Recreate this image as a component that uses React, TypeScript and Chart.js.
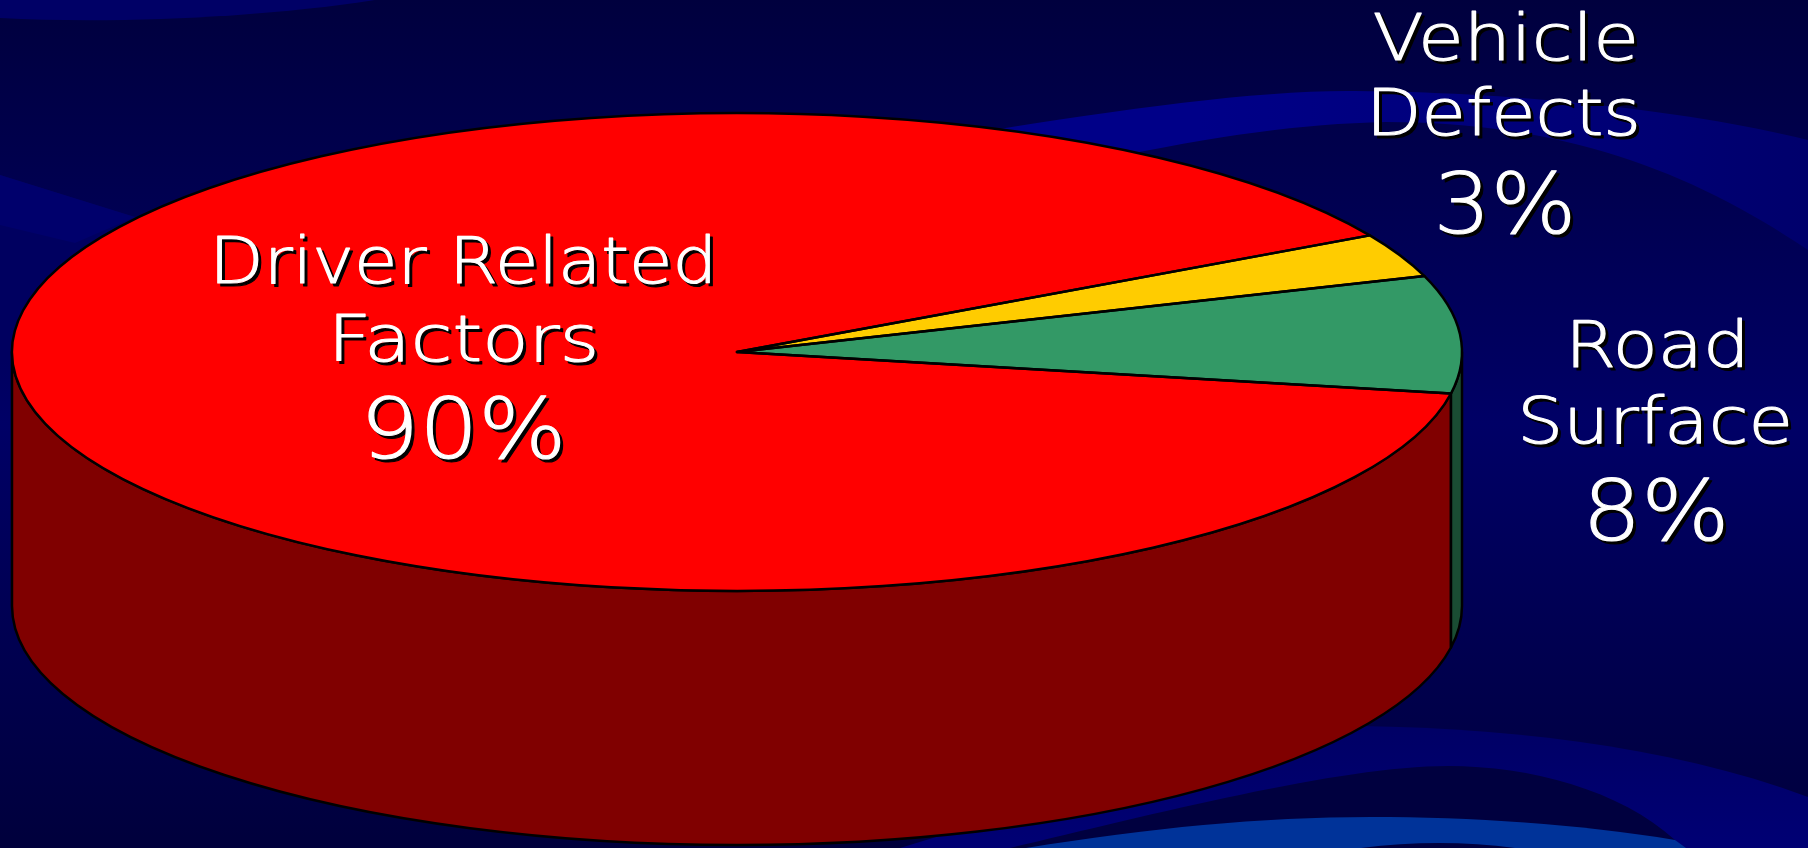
import React, { useEffect, useRef } from "react";
import { Chart, registerables } from "chart.js";

Chart.register(...registerables);

const categories = [["Driver Related", "Factors"], ["Vehicle", "Defects"], ["Road", "Surface"]];
const shares = [90, 3, 8];
const topColors = ["#FF0000", "#FFCC00", "#339966"];
const wallColors = ["#800000", "#806600", "#1A4D33"];

const PIE = { x: 737, y: 352, rx: 725, ry: 239, depth: 254 };
const TEXT_FONT = '"DejaVu Sans Light", "DejaVu Sans", Verdana, sans-serif';
const LABEL_LAYOUT = [
  [[463.5, 283, 493], [465, 361, 258], [464.5, 458, 191]],
  [[1504, 60, 260], [1505, 135, 262], [1505, 233, 130]],
  [[1657.5, 367, 169], [1655.5, 443, 265], [1656.5, 540, 133]],
];

function paintBackground(ctx: CanvasRenderingContext2D, w: number, h: number) {
  const base = ctx.createLinearGradient(0, 0, 0, h);
  base.addColorStop(0, "#00003E");
  base.addColorStop(0.5, "#000066");
  base.addColorStop(1, "#00003C");
  ctx.fillStyle = base;
  ctx.fillRect(0, 0, w, h);
  const shape = (fill: string | CanvasGradient, draw: () => void) => {
    ctx.beginPath();
    draw();
    ctx.closePath();
    ctx.fillStyle = fill;
    ctx.fill();
  };
  shape("#000066", () => {
    ctx.moveTo(0, 0);
    ctx.lineTo(0, 18);
    ctx.bezierCurveTo(110, 24, 260, 18, 375, 0);
  });
  shape("#000060", () => {
    ctx.moveTo(0, 175);
    ctx.lineTo(150, 222);
    ctx.lineTo(150, 360);
    ctx.lineTo(0, 360);
  });
  shape("#00006C", () => {
    ctx.moveTo(0, 175);
    ctx.lineTo(135, 217);
    ctx.lineTo(75, 243);
    ctx.lineTo(0, 225);
  });
  const upper = ctx.createLinearGradient(1200, 0, 1808, 0);
  upper.addColorStop(0, "#000088");
  upper.addColorStop(1, "#00006C");
  shape(upper, () => {
    ctx.moveTo(980, 132);
    ctx.bezierCurveTo(1130, 108, 1260, 90, 1355, 91);
    ctx.bezierCurveTo(1500, 92, 1680, 108, 1808, 140);
    ctx.lineTo(1808, 250);
    ctx.bezierCurveTo(1690, 170, 1560, 122, 1386, 122);
    ctx.bezierCurveTo(1300, 124, 1220, 135, 1100, 160);
  });
  const lower = ctx.createLinearGradient(0, 730, 0, 848);
  lower.addColorStop(0, "#000066");
  lower.addColorStop(1, "#000074");
  shape(lower, () => {
    ctx.moveTo(900, 848);
    ctx.lineTo(1300, 726);
    ctx.bezierCurveTo(1480, 724, 1660, 742, 1808, 797);
    ctx.lineTo(1808, 848);
  });
  shape("#00003F", () => {
    ctx.moveTo(1010, 848);
    ctx.bezierCurveTo(1150, 815, 1340, 766, 1448, 766);
    ctx.bezierCurveTo(1530, 766, 1620, 790, 1675, 840);
    ctx.lineTo(1682, 848);
  });
  shape("#003399", () => {
    ctx.moveTo(1026, 848);
    ctx.bezierCurveTo(1150, 828, 1260, 817, 1371, 817);
    ctx.bezierCurveTo(1470, 817, 1580, 824, 1675, 840);
    ctx.lineTo(1686, 848);
  });
  shape("#00003F", () => {
    ctx.moveTo(1361, 848);
    ctx.quadraticCurveTo(1440, 838, 1515, 848);
  });
}

function visibleFront(start: number, end: number): [number, number] | null {
  const tau = Math.PI * 2;
  for (const k of [-1, 0, 1]) {
    const a = Math.max(start + k * tau, 0);
    const b = Math.min(end + k * tau, Math.PI);
    if (b > a) return [a, b];
  }
  return null;
}

const pie3d = {
  id: "pie3d",
  beforeDraw(chart: any) {
    paintBackground(chart.ctx, chart.width, chart.height);
  },
  beforeDatasetsDraw(chart: any) {
    const ctx = chart.ctx as CanvasRenderingContext2D;
    const arcs = chart.getDatasetMeta(0).data;
    ctx.save();
    ctx.lineWidth = 2.5;
    ctx.strokeStyle = "#000";
    ctx.lineJoin = "round";
    arcs.forEach((arc: any, i: number) => {
      const span = visibleFront(arc.startAngle, arc.endAngle);
      if (!span) return;
      ctx.beginPath();
      ctx.ellipse(PIE.x, PIE.y, PIE.rx, PIE.ry, 0, span[0], span[1]);
      ctx.ellipse(PIE.x, PIE.y + PIE.depth, PIE.rx, PIE.ry, 0, span[1], span[0], true);
      ctx.closePath();
      ctx.fillStyle = wallColors[i];
      ctx.fill();
      ctx.stroke();
    });
    ctx.restore();
  },
  beforeDatasetDraw(chart: any) {
    const ctx = chart.ctx as CanvasRenderingContext2D;
    const arc = chart.getDatasetMeta(0).data[0];
    ctx.save();
    ctx.translate(PIE.x, PIE.y);
    ctx.scale(PIE.rx / arc.outerRadius, PIE.ry / arc.outerRadius);
    ctx.translate(-arc.x, -arc.y);
  },
  afterDatasetDraw(chart: any) {
    const ctx = chart.ctx as CanvasRenderingContext2D;
    ctx.restore();
    const arcs = chart.getDatasetMeta(0).data;
    ctx.save();
    ctx.lineWidth = 2.5;
    ctx.strokeStyle = "#000";
    ctx.lineJoin = "round";
    arcs.forEach((arc: any) => {
      ctx.beginPath();
      ctx.moveTo(PIE.x, PIE.y);
      ctx.ellipse(PIE.x, PIE.y, PIE.rx, PIE.ry, 0, arc.startAngle, arc.endAngle);
      ctx.closePath();
      ctx.stroke();
    });
    ctx.restore();
  },
  afterDraw(chart: any) {
    const ctx = chart.ctx as CanvasRenderingContext2D;
    categories.forEach((lines, i) => {
      const texts = [...lines, `${shares[i]}%`];
      texts.forEach((text, j) => {
        const [cx, baseline, width] = LABEL_LAYOUT[i][j];
        const size = j === 2 ? 83 : 64;
        ctx.save();
        ctx.font = `200 ${size}px ${TEXT_FONT}`;
        ctx.textAlign = "center";
        ctx.textBaseline = "alphabetic";
        ctx.lineJoin = "round";
        const m = ctx.measureText(text);
        const inked = m.actualBoundingBoxLeft + m.actualBoundingBoxRight;
        const sx = width / inked;
        const shift = (m.actualBoundingBoxLeft - m.actualBoundingBoxRight) / 2;
        const put = (dx: number, dy: number, color: string) => {
          ctx.save();
          ctx.translate(cx + dx, baseline + dy);
          ctx.scale(sx, 1);
          ctx.fillStyle = color;
          ctx.strokeStyle = color;
          ctx.lineWidth = 1.1;
          ctx.fillText(text, shift, 0);
          ctx.strokeText(text, shift, 0);
          ctx.restore();
        };
        put(3, 3, "#000000");
        put(0, 0, "#FFFFFF");
        ctx.restore();
      });
    });
  },
};

export default function App() {
  const ref = useRef<HTMLCanvasElement>(null);
  useEffect(() => {
    document.body.style.margin = "0";
    document.body.style.overflow = "hidden";
    const chart = new Chart(ref.current as HTMLCanvasElement, {
      type: "pie",
      data: {
        labels: categories.map((c) => c.join(" ")),
        datasets: [
          {
            data: shares,
            backgroundColor: topColors,
            borderWidth: 0,
            clip: false,
          } as any,
        ],
      },
      options: {
        responsive: false,
        animation: false,
        rotation: 100,
        layout: { padding: 0 },
        plugins: { legend: { display: false }, tooltip: { enabled: false }, title: { display: false } },
      },
      plugins: [pie3d],
    });
    return () => chart.destroy();
  }, []);
  return <canvas ref={ref} width={1808} height={848} style={{ display: "block", width: 1808, height: 848 }} />;
}
